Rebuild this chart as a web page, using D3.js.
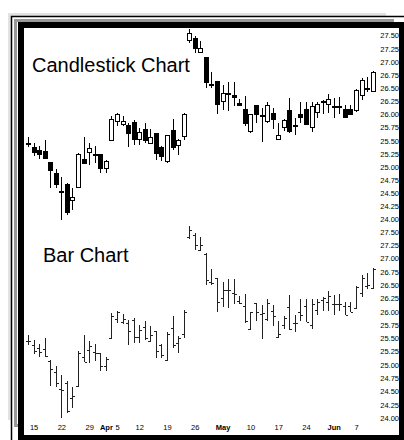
<!DOCTYPE html>
<html><head><meta charset="utf-8">
<script src="https://cdn.jsdelivr.net/npm/d3@7"></script>
<style>html,body{margin:0;padding:0;background:#fff;}svg{display:block;}</style>
</head><body>
<script>
// Trading days (2004-03-12 .. 2004-06-10)
const dates = ["03-12","03-15","03-16","03-17","03-18","03-19","03-22","03-23","03-24","03-25","03-26","03-29","03-30","03-31",
"04-01","04-02","04-05","04-06","04-07","04-08","04-12","04-13","04-14","04-15","04-16","04-19","04-20","04-21","04-22","04-23",
"04-26","04-27","04-28","04-29","04-30","05-03","05-04","05-05","05-06","05-07","05-10","05-11","05-12","05-13","05-14",
"05-17","05-18","05-19","05-20","05-21","05-24","05-25","05-26","05-27","05-28","06-01","06-02","06-03","06-04","06-07","06-08","06-09","06-10"];
const open  = [25.45,25.37,25.31,25.30,25.08,24.87,24.54,24.66,24.37,24.60,25.15,25.28,25.24,25.23,24.97,25.51,25.86,25.81,25.78,25.85,25.53,25.72,25.44,25.63,25.37,25.10,25.69,25.41,25.58,
27.41,27.45,27.17,27.08,26.56,26.63,26.25,26.40,26.35,26.21,26.10,25.68,26.16,25.95,25.86,26.02,25.53,25.75,26.08,25.78,25.99,26.10,25.75,26.03,26.22,26.19,26.15,26.14,26.10,26.10,26.07,26.35,26.49,26.44];
const high  = [25.56,25.46,25.40,25.51,25.10,24.97,24.80,24.69,24.59,25.27,25.56,25.45,25.39,25.23,25.14,25.97,26.02,25.96,25.84,25.89,25.75,25.83,25.73,25.64,25.39,25.61,25.92,25.54,26.03,
27.62,27.49,27.40,27.10,26.81,26.63,26.56,26.62,26.62,26.30,26.34,25.99,26.16,26.13,26.24,26.13,25.83,25.91,26.32,25.93,26.24,26.24,26.24,26.24,26.27,26.39,26.31,26.33,26.18,26.18,26.48,26.70,26.72,26.83];
const low   = [25.37,25.21,25.15,25.15,24.60,24.59,24.00,24.09,24.18,24.59,25.05,25.04,25.07,24.89,24.88,25.49,25.78,25.77,25.38,25.42,25.42,25.46,25.43,25.13,25.12,25.08,25.32,25.22,25.51,
27.36,27.16,27.16,26.50,26.50,26.00,26.08,26.07,26.15,26.15,25.78,25.65,25.83,25.48,25.83,25.73,25.53,25.68,25.65,25.61,25.83,25.80,25.67,25.93,26.01,26.02,25.93,26.01,25.93,25.99,26.05,26.27,26.43,26.43];
const close = [25.45,25.27,25.24,25.16,24.93,24.66,24.52,24.13,24.41,25.23,25.06,25.35,25.23,24.97,25.11,25.91,26.00,25.86,25.64,25.53,25.65,25.50,25.56,25.26,25.19,25.59,25.37,25.51,26.00,
27.54,27.26,27.26,26.60,26.54,26.19,26.40,26.40,26.33,26.17,25.83,25.99,25.99,25.97,26.16,25.91,25.59,25.89,25.67,25.78,25.94,25.81,26.15,26.18,26.25,26.29,26.15,26.14,25.94,26.00,26.46,26.64,26.50,26.80];
const priceTicks = [24.00,24.25,24.50,24.75,25.00,25.25,25.50,25.75,26.00,26.25,26.50,26.75,27.00,27.25,27.50];
const tickDates  = ["03-15","03-22","03-29","04-01","04-05","04-12","04-19","04-26","05-03","05-10","05-17","05-24","06-01","06-07"];
const tickLabels = ["15","22","29","Apr","5","12","19","26","May","10","17","24","Jun","7"];
const monthNames = ["Apr","May","Jun"];
const titles = ["Candlestick Chart","Bar Chart"];

const W = 404, H = 440;
const svg = d3.select("body").append("svg").attr("width", W).attr("height", H)
  .attr("font-family", "Arial, 'Liberation Sans', sans-serif");

// Frame with stacked shadow edges
svg.append("rect").attr("x",8).attr("y",13).attr("width",378).attr("height",407).attr("fill","#e2e2e2");
svg.append("rect").attr("x",11.5).attr("y",16.5).attr("width",420).attr("height",440).attr("fill","#fff").attr("stroke","#000").attr("stroke-width",1.5);
svg.append("rect").attr("x",15.5).attr("y",20.5).attr("width",377).attr("height",405).attr("fill","#fff").attr("stroke","#999").attr("stroke-width",3);
svg.append("rect").attr("x",18).attr("y",22).attr("width",420).attr("height",440).attr("fill","#000");
svg.append("rect").attr("x",24).attr("y",28).attr("width",375).attr("height",407).attr("fill","#fff");

const data = dates.map((d,i)=>({d, o:open[i], h:high[i], l:low[i], c:close[i]}));
const x = d3.scalePoint().domain(dates).range([28, 372.7]);
const yTop = d3.scaleLinear().domain([24, 27.5]).range([219.5, 35.5]);
const yBot = d3.scaleLinear().domain([24, 27.5]).range([418, 232]);
const fmt = d3.format(".2f");

// Right price axes
[yTop, yBot].forEach(y => {
  const g = svg.append("g").attr("transform", "translate(399,0)");
  const ax = d3.axisRight(y).tickValues(priceTicks).tickFormat(fmt).tickSize(0).tickPadding(0);
  g.call(ax);
  g.select(".domain").remove();
  g.selectAll("text").attr("text-anchor","end").attr("x",0).attr("font-size",7.5)
    .attr("font-family","Arial, 'Liberation Sans', sans-serif").attr("fill","#000");
});

// Bottom date axis
const xg = svg.append("g").attr("transform","translate(0,427)");
xg.call(d3.axisBottom(x).tickValues(tickDates).tickFormat((d,i)=>tickLabels[i]).tickSize(0).tickPadding(0));
xg.select(".domain").remove();
xg.selectAll("text").attr("font-size",7.5).attr("font-family","Arial, 'Liberation Sans', sans-serif")
  .attr("fill","#000").attr("dy","0.45em")
  .attr("font-weight",(d,i)=>monthNames.includes(tickLabels[i]) ? "bold" : "normal");

// Candlesticks
const cg = svg.append("g").attr("shape-rendering","crispEdges");
const cx = d => Math.round(x(d.d)) + 0.5;
cg.selectAll("line.w").data(data).join("line")
  .attr("x1",cx).attr("x2",cx).attr("y1",d=>yTop(d.h)).attr("y2",d=>yTop(d.l))
  .attr("stroke","#000").attr("stroke-width",1);
cg.selectAll("rect").data(data).join("rect")
  .attr("x",d=>cx(d)-2).attr("width",4)
  .attr("y",d=>yTop(Math.max(d.o,d.c)))
  .attr("height",d=>Math.max(1, yTop(Math.min(d.o,d.c)) - yTop(Math.max(d.o,d.c))))
  .attr("fill",d=>d.c>d.o ? "#fff" : "#000")
  .attr("stroke","#000").attr("stroke-width",1);

// OHLC bars
const bg = svg.append("g").attr("shape-rendering","crispEdges").attr("stroke","#222").attr("stroke-width",1);
bg.selectAll("line.v").data(data).join("line").attr("class","v")
  .attr("x1",cx).attr("x2",cx).attr("y1",d=>yBot(d.h)).attr("y2",d=>yBot(d.l));
bg.selectAll("line.o").data(data).join("line").attr("class","o")
  .attr("x1",d=>cx(d)-2.5).attr("x2",cx).attr("y1",d=>Math.round(yBot(d.o))+0.5).attr("y2",d=>Math.round(yBot(d.o))+0.5);
bg.selectAll("line.c").data(data).join("line").attr("class","c")
  .attr("x1",cx).attr("x2",d=>cx(d)+2.5).attr("y1",d=>Math.round(yBot(d.c))+0.5).attr("y2",d=>Math.round(yBot(d.c))+0.5);

// Titles
svg.append("text").attr("x",32).attr("y",72).attr("font-size",20).attr("fill","#000").text(titles[0]);
svg.append("text").attr("x",43).attr("y",262).attr("font-size",20).attr("fill","#000").text(titles[1]);
</script>
</body></html>
